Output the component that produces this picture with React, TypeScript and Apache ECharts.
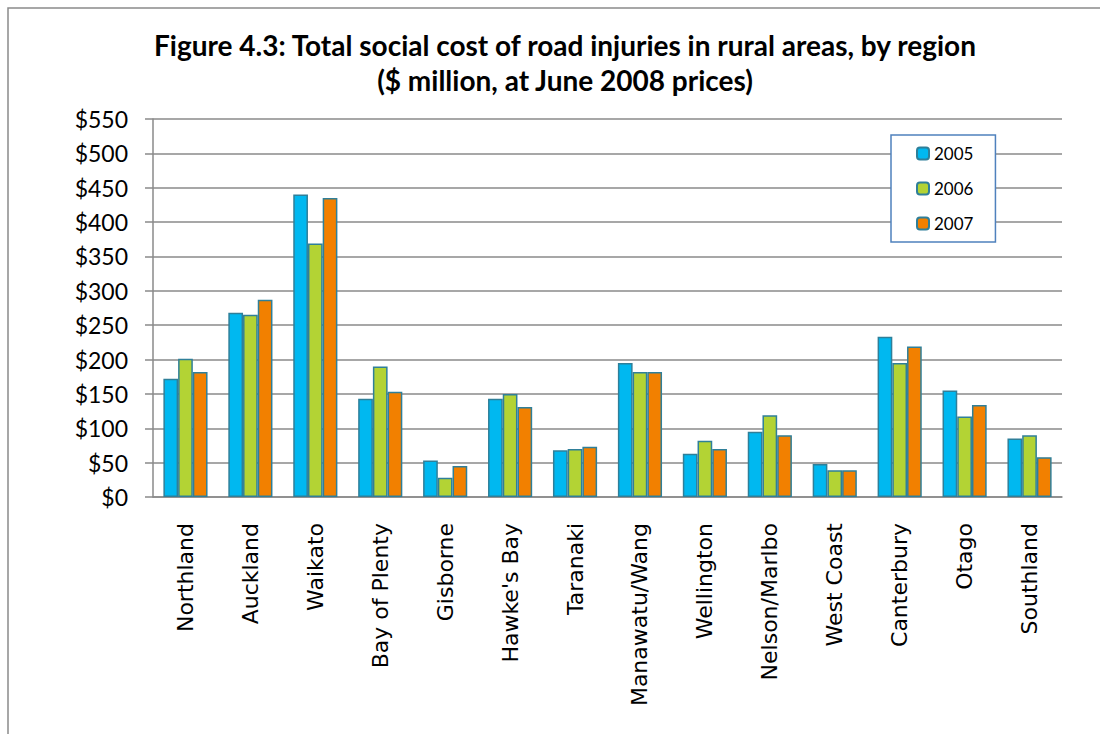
import React, { useEffect, useRef } from "react";
import * as echarts from "echarts";

const categories = [
  "Northland", "Auckland", "Waikato", "Bay of Plenty", "Gisborne", "Hawke's Bay",
  "Taranaki", "Manawatu/Wang", "Wellington", "Nelson/Marlbo", "West Coast",
  "Canterbury", "Otago", "Southland",
];
const values2005 = [172, 268, 440, 143, 53, 143, 68, 195, 63, 95, 48, 233, 155, 85];
const values2006 = [201, 265, 369, 190, 28, 150, 70, 182, 82, 119, 39, 195, 117, 90];
const values2007 = [182, 287, 435, 153, 45, 131, 73, 182, 70, 90, 39, 219, 134, 58];
const seriesNames = ["2005", "2006", "2007"];
const seriesColors = ["#00B8F0", "#B3D334", "#F28000"];
const titleText = "Figure 4.3: Total social cost of road injuries in rural areas, by region\n($ million, at June 2008 prices)";

export default function App() {
  const ref = useRef<HTMLDivElement>(null);
  useEffect(() => {
    document.body.style.margin = "0";
    const chart = echarts.init(ref.current!, null, { renderer: "svg" });
    const data = [values2005, values2006, values2007];
    chart.setOption({
      animation: false,
      backgroundColor: "#ffffff",
      title: {
        text: titleText,
        left: 565,
        textAlign: "center",
        top: 27,
        padding: 0,
        textStyle: {
          fontFamily: "Lato",
          fontWeight: "bold",
          fontSize: 28,
          lineHeight: 35,
          color: "#000000",
        },
      },
      graphic: [
        {
          type: "rect",
          shape: { x: 8, y: 8, width: 1200, height: 800 },
          style: { fill: "none", stroke: "#8a8a8a", lineWidth: 1.5 },
          silent: true,
        },
      ],
      legend: {
        orient: "vertical",
        left: 891,
        top: 135,
        padding: [10, 22, 10, 25],
        itemGap: 18,
        itemWidth: 12,
        itemHeight: 12,
        borderColor: "#4F81BD",
        borderWidth: 1.5,
        backgroundColor: "#ffffff",
        data: seriesNames,
        textStyle: { fontFamily: "Lato", fontSize: 17, color: "#000", lineHeight: 17, padding: [0, 0, 0, 0] },
      },
      grid: { left: 153, right: 38, top: 119, bottom: 237, containLabel: false },
      xAxis: {
        type: "category",
        data: categories,
        axisLine: { lineStyle: { color: "#8a8a8a", width: 1.5 } },
        axisTick: { length: 8, lineStyle: { color: "#8a8a8a", width: 1.5 } },
        axisLabel: {
          rotate: 90,
          interval: 0,
          margin: 26,
          fontFamily: "DejaVu Sans",
          fontSize: 22,
          color: "#000",
        },
      },
      yAxis: {
        type: "value",
        min: 0,
        max: 550,
        interval: 50,
        axisLine: { show: true, lineStyle: { color: "#8a8a8a", width: 1.5 } },
        axisTick: { show: true, length: 8, lineStyle: { color: "#8a8a8a", width: 1.5 } },
        splitLine: { lineStyle: { color: "#8a8a8a", width: 1.5 } },
        axisLabel: {
          margin: 25,
          fontFamily: "Lato",
          fontSize: 23,
          color: "#000",
          formatter: (v: number) => "$" + v,
        },
      },
      series: seriesNames.map((name, i) => ({
        name,
        type: "bar",
        data: data[i],
        barGap: "0%",
        barCategoryGap: "32%",
        itemStyle: { color: seriesColors[i], borderColor: "#2F7F99", borderWidth: 1.5 },
      })),
    });
    return () => chart.dispose();
  }, []);
  return <div ref={ref} style={{ width: 1100, height: 734 }} />;
}
